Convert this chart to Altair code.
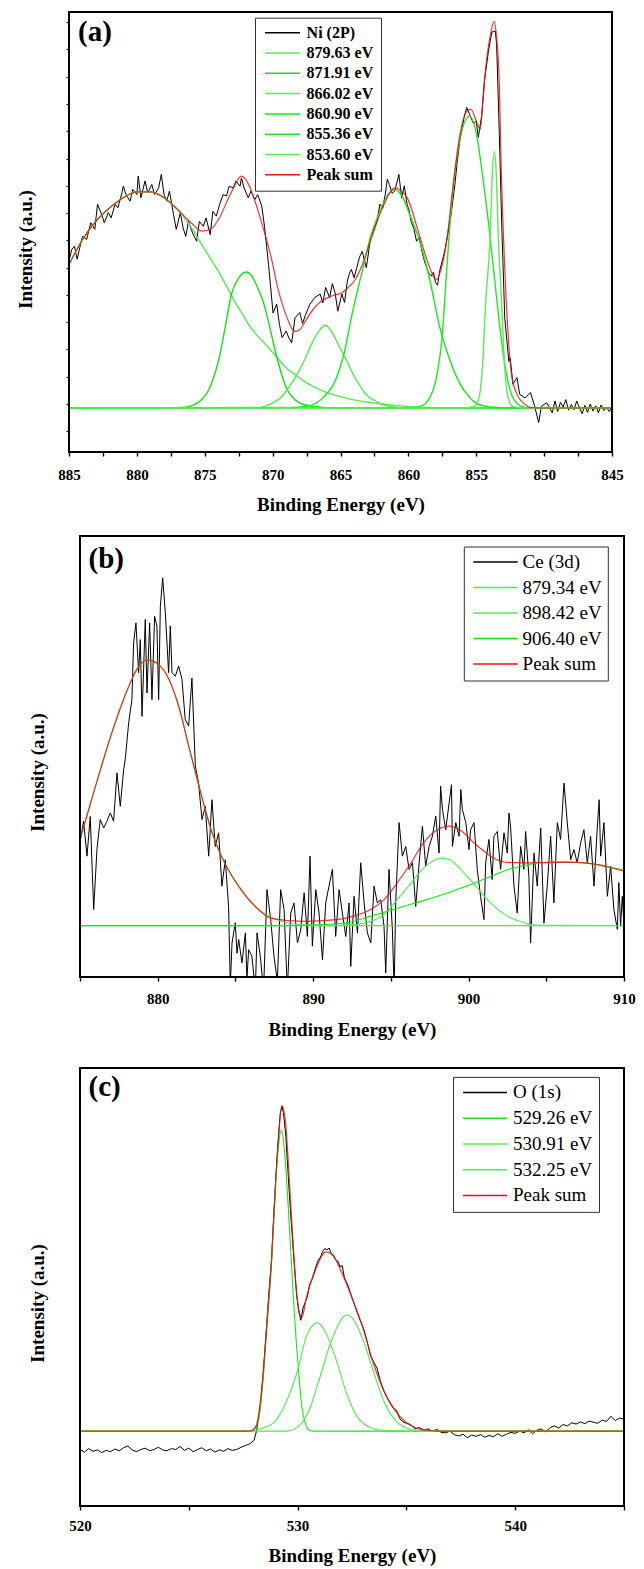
import altair as alt
import pandas as pd

FONT = "Liberation Serif"

# ======================= (a) Ni 2p =======================
a_names = ["Ni (2P)", "879.63 eV", "871.91 eV", "866.02 eV", "860.90 eV",
           "855.36 eV", "853.60 eV", "Peak sum"]
a_colors = ["#000000", "#4cef4c", "#14e014", "#4cef4c", "#10ee10",
            "#22e622", "#55ee55", "#ee1111"]

a_ni = [
    (885.0, 43.4), (884.8, 46.0), (884.6, 46.8), (884.4, 43.8), (884.1, 47.9),
    (884.0, 49.0), (883.7, 48.3), (883.4, 52.1), (883.1, 50.6), (882.9, 56.3),
    (882.6, 54.0), (882.4, 52.1), (882.1, 54.4), (881.9, 53.2), (881.6, 56.3),
    (881.4, 55.5), (881.1, 58.9), (881.0, 60.4), (880.8, 58.5), (880.5, 57.0),
    (880.3, 59.7), (880.0, 58.5), (879.9, 62.7), (879.7, 57.8), (879.4, 61.6),
    (879.2, 58.9), (878.9, 60.8), (878.7, 58.5), (878.4, 60.0), (878.2, 63.1),
    (878.0, 58.5), (877.8, 57.0), (877.6, 59.3), (877.3, 54.0), (877.1, 50.6),
    (876.8, 54.4), (876.6, 51.0), (876.4, 49.0), (876.2, 52.4), (875.9, 49.8),
    (875.6, 47.9), (875.4, 52.4), (875.1, 51.3), (874.9, 53.2), (874.6, 49.4),
    (874.4, 54.7), (874.15, 53.6), (873.9, 56.3), (873.65, 58.5), (873.4, 58.2),
    (873.2, 60.4), (872.9, 60.0), (872.7, 61.6), (872.4, 60.4), (872.3, 62.3),
    (872.1, 60.0), (871.8, 57.8), (871.6, 59.3), (871.3, 57.4), (871.1, 58.5),
    (870.8, 55.9), (870.6, 51.3), (870.3, 42.6), (869.97, 31.6), (869.7, 33.6),
    (869.5, 29.0), (869.3, 26.0), (869.0, 27.5), (868.8, 25.9), (868.6, 24.8),
    (868.35, 30.5), (868.0, 31.7), (867.8, 29.2), (867.6, 31.0), (867.25, 33.6),
    (866.9, 35.1), (866.5, 35.9), (866.3, 33.9), (866.1, 37.4), (865.8, 35.1),
    (865.6, 38.3), (865.4, 36.2), (865.2, 32.0), (864.9, 35.9), (864.7, 34.0),
    (864.5, 38.8), (864.35, 40.5), (864.2, 41.5), (864.0, 39.6), (863.8, 41.9),
    (863.6, 44.3), (863.4, 45.6), (863.1, 41.9), (862.95, 45.0), (862.8, 48.7),
    (862.5, 51.0), (862.3, 52.5), (862.1, 56.3), (861.9, 55.4), (861.7, 58.6),
    (861.55, 62.0), (861.4, 60.8), (861.2, 58.8), (861.0, 59.3), (860.7, 63.1),
    (860.5, 57.8), (860.3, 60.5), (860.1, 56.3), (859.95, 55.0), (859.8, 52.4),
    (859.6, 50.8), (859.4, 47.9), (859.2, 48.8), (859.0, 45.6), (858.8, 43.2),
    (858.65, 41.9), (858.5, 40.6), (858.3, 40.0), (858.15, 40.9), (858.0, 38.5),
    (857.85, 37.9), (857.7, 41.1), (857.5, 43.5), (857.3, 46.0), (856.9, 53.0),
    (856.6, 60.0), (856.4, 66.0), (856.2, 71.0), (855.9, 76.0), (855.7, 78.3),
    (855.5, 76.8), (855.2, 74.6), (855.0, 75.2), (854.85, 71.5), (854.6, 76.4),
    (854.4, 84.3), (854.1, 91.1), (853.86, 95.4), (853.6, 95.7), (853.5, 92.7),
    (853.3, 72.2), (853.1, 49.4), (852.9, 30.5), (852.6, 20.6), (852.5, 21.4),
    (852.3, 15.4), (852.0, 16.9), (851.8, 13.1), (851.4, 12.3), (851.0, 13.5),
    (850.7, 10.4), (850.4, 6.7), (850.2, 10.4), (849.8, 11.2), (849.4, 8.9),
    (849.2, 11.6), (849.0, 9.2), (848.8, 11.3), (848.6, 10.2), (848.4, 11.9),
    (848.2, 9.5), (848.0, 10.8), (847.8, 9.6), (847.6, 11.6), (847.4, 10.1),
    (847.2, 8.7), (847.0, 10.6), (846.8, 9.0), (846.6, 10.9), (846.4, 9.3),
    (846.2, 10.5), (846.0, 8.9), (845.8, 10.7), (845.6, 9.4), (845.4, 10.1),
    (845.2, 9.2), (845.0, 10.3),
]
a_fit_87963 = [
    (885, 42.6), (884, 48.3), (883, 52.5), (882, 55.5), (881, 57.8), (880, 59.1),
    (879, 59.1), (878, 57.8), (877, 55.1), (876.2, 52.0), (875.4, 48.0), (874.7, 44.5),
    (874, 41.1), (873.4, 37.7), (872.8, 34.3), (872.2, 31.2), (871.6, 28.2), (871, 26.0),
    (870.3, 23.7), (869.6, 21.2), (869, 19.1), (868.3, 17.5), (867.7, 16.1), (866.8, 14.6),
    (866, 13.5), (865, 12.6), (864.1, 11.9), (863, 11.3), (861.6, 10.8), (859.9, 10.3),
    (858, 10.05), (856, 10.0), (845, 10.0),
]
a_fit_87191 = [
    (885, 10.0), (877, 10.05), (876.2, 10.3), (875.74, 10.8), (875.2, 12.0), (874.76, 13.8),
    (874.4, 16.5), (874.0, 20.6), (873.5, 28.2), (873.04, 35.8), (872.5, 39.5), (871.94, 40.9),
    (871.5, 39.8), (871.1, 37.3), (870.7, 34.2), (870.3, 29.5), (870.0, 25.5), (869.6, 20.5),
    (869.0, 14.6), (868.4, 12.0), (867.7, 10.8), (866.5, 10.2), (865, 10.0), (845, 10.0),
]
a_fit_86602 = [
    (885, 10.0), (871, 10.1), (870.2, 10.8), (869.2, 13.0), (868.7, 15.2), (868.2, 17.6),
    (867.7, 20.6), (867.25, 23.7), (866.7, 27.0), (866.1, 28.8), (865.6, 27.0), (865.04, 23.7),
    (864.5, 20.5), (864.06, 17.6), (863.6, 15.2), (863.1, 13.0), (862.5, 11.7), (861.9, 10.8),
    (861, 10.2), (860, 10.0), (845, 10.0),
]
a_fit_86090 = [
    (885, 10.0), (868.5, 10.1), (867.5, 10.4), (866.3, 12.3), (865.3, 16.8), (864.7, 22.9),
    (864.1, 32.0), (863.4, 41.1), (862.8, 48.7), (862.1, 54.7), (861.5, 58.5), (861.0, 59.7),
    (860.5, 58.3), (859.9, 54.0), (859.1, 47.2), (858.4, 38.8), (857.7, 28.5), (856.9, 20.5),
    (856.2, 15.5), (855.6, 12.8), (855.2, 11.5), (854.5, 10.5), (853.5, 10.1), (852, 10.0),
    (845, 10.0),
]
a_fit_85536 = [
    (885, 10.0), (860, 10.05), (859, 10.5), (858.5, 12.0), (858, 16.0), (857.5, 26.7),
    (857.2, 40.3), (856.8, 57.0), (856.4, 67.6), (856.0, 73.7), (855.5, 76.4), (855.0, 72.5),
    (854.5, 62.0), (854.0, 49.4), (853.5, 35.0), (853.0, 22.0), (852.5, 14.0), (852.0, 11.0),
    (851.5, 10.2), (851, 10.0), (845, 10.0),
]
a_fit_85360 = [
    (885, 10.0), (856, 10.0), (855.2, 10.3), (854.8, 12.3), (854.55, 19.1), (854.3, 34.3),
    (853.97, 49.4), (853.82, 62.9), (853.67, 68.3), (853.52, 62.9), (853.38, 49.4),
    (853.14, 34.3), (852.9, 19.1), (852.65, 12.3), (852.3, 10.3), (851.5, 10.0), (845, 10.0),
]
a_sum = [
    (885, 42.6), (884, 48.3), (883, 52.5), (882, 55.5), (881, 57.8), (880, 59.1),
    (879, 59.1), (878, 57.8), (877, 55.1), (876, 52.1), (875.2, 50.2), (874.5, 50.8),
    (874, 52.8), (873, 59.3), (872.3, 62.7), (871.8, 61.0), (871.3, 57.0), (870.7, 51.0),
    (870.1, 44.1), (869.6, 37.0), (869.2, 32.8), (868.8, 29.5), (868.4, 27.4), (868, 27.8),
    (867.6, 29.7), (867, 32.5), (866.4, 34.3), (865.6, 35.5), (864.9, 36.2), (864.4, 37.5),
    (864, 38.8), (863.4, 42.5), (862.8, 47.9), (861.9, 55.5), (861, 60.0), (860.1, 57.8),
    (859.2, 49.4), (858.5, 42.5), (858.1, 39.6), (857.9, 39.2), (857.7, 40.5), (857.2, 47.5),
    (856.7, 60.8), (856.2, 72.2), (855.7, 77.4), (855.4, 77.9), (854.9, 74.4), (854.7, 73.3),
    (854.55, 78.2), (854.3, 87.3), (853.95, 94.9), (853.7, 97.8), (853.5, 94.2), (853.3, 83.5),
    (853.16, 64.6), (852.9, 41.8), (852.65, 26.7), (852.4, 17.6), (852.0, 13.1), (851.4, 10.8),
    (851.0, 10.1), (850, 10.0), (845, 10.0),
]
a_xticks = [845, 847.5, 850, 852.5, 855, 857.5, 860, 862.5, 865, 867.5, 870,
            872.5, 875, 877.5, 880, 882.5, 885]
a_yticks = [4.7, 10.9, 17.1, 23.3, 29.5, 35.7, 41.9, 48.1, 54.3, 60.5, 66.7,
            72.9, 79.1, 85.3, 91.5, 97.7]

# ======================= (b) Ce 3d =======================
b_names = ["Ce (3d)", "879.34 eV", "898.42 eV", "906.40 eV", "Peak sum"]
b_colors = ["#000000", "#44ee44", "#4cef4c", "#14e614", "#ee1111"]

b_ce = [
    (875.0, 30.5), (875.23, 35.3), (875.45, 27.4), (875.66, 36.4), (875.88, 15.3),
    (876.09, 28.9), (876.3, 35.7), (876.52, 33.8), (876.73, 35.3), (876.95, 37.2),
    (877.16, 35.3), (877.38, 46.3), (877.59, 38.7), (877.81, 47.0), (877.91, 49.3),
    (878.13, 57.6), (878.34, 62.9), (878.45, 75.8), (878.6, 80.3), (878.77, 69.0),
    (878.88, 76.5), (878.99, 59.1), (879.2, 81.1), (879.31, 64.4), (879.48, 80.3),
    (879.63, 62.9), (879.8, 81.8), (879.95, 79.6), (880.06, 62.9), (880.17, 84.1),
    (880.32, 90.5), (880.49, 82.6), (880.7, 69.0), (880.81, 79.6), (880.92, 69.0),
    (881.13, 68.2), (881.35, 70.5), (881.56, 67.5), (881.77, 58.4), (881.99, 56.9),
    (882.2, 67.8), (882.42, 47.8), (882.63, 44.0), (882.85, 35.7), (883.06, 38.7),
    (883.28, 27.4), (883.49, 40.2), (883.7, 29.6), (883.92, 32.7), (884.13, 20.6),
    (884.35, 26.6), (884.56, 16.0), (884.67, -2.0), (884.78, 7.7), (884.99, 12.3),
    (885.1, 5.4), (885.21, 8.5), (885.42, 3.2), (885.64, 10.0), (885.74, -0.6),
    (885.85, 6.2), (886.06, 4.7), (886.28, -3.0), (886.39, 10.0), (886.6, 4.7),
    (886.81, -3.0), (887.03, 19.8), (887.27, 13.0), (887.48, 4.7), (887.7, -1.0),
    (887.91, 19.8), (888.13, 15.3), (888.34, -3.0), (888.56, 14.5), (888.77, 16.8),
    (888.99, 7.7), (889.2, 10.7), (889.42, 19.1), (889.63, 9.2), (889.8, 27.4),
    (889.95, 7.0), (890.17, 19.8), (890.38, 14.5), (890.6, 3.9), (890.81, 16.8),
    (891.02, 20.6), (891.24, 24.4), (891.45, 9.2), (891.67, 19.8), (891.88, 14.5),
    (892.1, 9.2), (892.31, 16.8), (892.42, 2.4), (892.63, 18.3), (892.85, 10.0),
    (893.06, 25.9), (893.28, 16.8), (893.49, 10.0), (893.71, 7.7), (893.92, 20.6),
    (894.13, 16.8), (894.35, 17.5), (894.56, 11.5), (894.67, 0.9), (894.88, 24.4),
    (895.1, 10.7), (895.21, -3.0), (895.31, 16.8), (895.53, 35.0), (895.74, 27.4),
    (895.96, 29.6), (896.17, 24.4), (896.39, 25.9), (896.6, 16.0), (896.82, 25.9),
    (897.03, 34.2), (897.24, 25.1), (897.46, 29.6), (897.67, 31.9), (897.89, 36.5),
    (898.1, 28.1), (898.2, 43.3), (898.32, 38.0), (898.53, 33.4), (898.75, 39.5),
    (898.9, 43.6), (898.96, 29.6), (899.18, 35.0), (899.39, 31.9), (899.5, 42.5),
    (899.6, 38.0), (899.82, 35.0), (900.03, 28.9), (900.13, 33.4), (900.35, 35.0),
    (900.56, 24.4), (900.77, 18.3), (900.99, 13.0), (901.1, 25.9), (901.31, 31.2),
    (901.52, 22.1), (901.63, 31.9), (901.85, 33.0), (902.06, 24.4), (902.28, 32.7),
    (902.49, 28.1), (902.6, 37.2), (902.7, 34.2), (902.92, 20.6), (903.13, 14.5),
    (903.35, 29.6), (903.56, 24.4), (903.67, 33.0), (903.88, 22.8), (903.99, 7.7),
    (904.21, 28.1), (904.42, 20.6), (904.64, 33.8), (904.85, 12.2), (905.06, 20.6),
    (905.28, 31.9), (905.49, 16.8), (905.71, 35.0), (905.92, 31.2), (906.14, 44.0),
    (906.35, 35.0), (906.57, 26.6), (906.78, 28.9), (906.99, 25.9), (907.21, 30.4),
    (907.42, 33.4), (907.64, 25.9), (907.85, 31.9), (908.07, 20.6), (908.28, 33.8),
    (908.4, 40.2), (908.5, 27.4), (908.71, 35.0), (908.93, 18.3), (909.14, 25.1),
    (909.35, 15.3), (909.57, 10.8), (909.67, 21.4), (909.78, 11.5), (909.89, 18.3),
    (910.0, 11.6),
]
b_fit_87934 = [
    (875, 31.2), (876, 43.3), (877.05, 55.4), (878.1, 65.6), (878.7, 70.0), (879.3, 71.9),
    (880.0, 71.0), (880.5, 69.0), (881.35, 61.4), (882, 52.3), (882.6, 44.0), (883.5, 32.7),
    (884.1, 27.4), (885.2, 20.6), (886.5, 15.2), (887.5, 13.2), (888.5, 12.2), (889.5, 11.8),
    (891, 11.65), (910, 11.65),
]
b_fit_89842 = [
    (875, 11.65), (891, 11.65), (892.6, 11.9), (893.7, 12.6), (894.55, 14.1), (895.4, 17.5),
    (896.3, 21.3), (897.1, 24.7), (897.8, 26.5), (898.3, 27.0), (898.8, 26.6), (899.3, 25.1),
    (900.3, 21.3), (901.4, 16.8), (902.5, 13.8), (903.6, 12.3), (904.6, 11.7), (910, 11.65),
]
b_fit_90640 = [
    (875, 11.65), (888, 11.65), (889.5, 11.75), (891, 11.95), (892.6, 12.6), (893.7, 13.8),
    (894.8, 14.9), (895.8, 16.0), (897, 17.2), (898, 18.3), (899, 19.5), (900.1, 20.9),
    (901.3, 22.6), (902.5, 24.3), (903.6, 25.3), (904.6, 25.9), (906.1, 26.1), (907, 26.0),
    (907.85, 25.7), (909, 25.0), (910, 24.2),
]
b_sum = [
    (875, 31.2), (876, 43.3), (877.05, 55.4), (878.1, 65.6), (878.7, 70.0), (879.3, 71.9),
    (880.0, 71.0), (880.5, 69.0), (881.35, 61.4), (882, 52.3), (882.6, 44.0), (883.5, 32.7),
    (884.1, 27.4), (885.2, 20.6), (886.5, 15.3), (887.3, 13.3), (889.4, 12.6), (891.5, 13.0),
    (892.6, 13.8), (893.7, 15.3), (894.55, 17.5), (895.4, 21.3), (896.3, 25.9), (897.1, 30.4),
    (898.0, 33.4), (898.7, 34.2), (899.5, 33.2), (900.35, 30.4), (901.0, 28.5), (901.6, 27.0),
    (902.5, 26.0), (903.6, 25.9), (905.7, 26.0), (906.8, 26.0), (907.9, 25.7), (908.9, 25.0),
    (910, 24.0),
]
b_xticks = [875, 880, 885, 890, 895, 900, 905, 910]

# ======================= (c) O 1s =======================
c_names = ["O (1s)", "529.26 eV", "530.91 eV", "532.25 eV", "Peak sum"]
c_colors = ["#000000", "#14e614", "#4cef4c", "#44ee44", "#ee1111"]

c_o = [
    (520.0, 12.9), (520.2, 12.3), (520.4, 13.1), (520.6, 12.5), (520.8, 12.8),
    (521.0, 12.2), (521.2, 12.7), (521.4, 12.4), (521.6, 13.0), (521.8, 12.6),
    (522.0, 13.3), (522.2, 13.7), (522.4, 12.8), (522.6, 12.4), (522.8, 12.9),
    (523.0, 13.2), (523.2, 12.6), (523.4, 12.9), (523.6, 13.4), (523.8, 12.8),
    (524.0, 12.6), (524.2, 13.1), (524.4, 12.9), (524.6, 13.6), (524.8, 12.7),
    (525.0, 13.2), (525.2, 12.4), (525.4, 12.9), (525.6, 13.3), (525.8, 12.6),
    (526.0, 13.0), (526.2, 12.3), (526.4, 12.8), (526.6, 12.5), (526.8, 13.1),
    (527.0, 12.7), (527.2, 12.9), (527.4, 13.4), (527.6, 13.8), (527.8, 14.2),
    (528.0, 15.0), (528.1, 16.9), (528.2, 19.8), (528.3, 23.5), (528.4, 29.0),
    (528.5, 36.0), (528.6, 43.0), (528.7, 50.0), (528.8, 56.0), (528.9, 66.0),
    (529.0, 75.0), (529.1, 83.0), (529.2, 89.5), (529.28, 91.3), (529.35, 89.8),
    (529.45, 85.0), (529.55, 77.0), (529.65, 69.0), (529.75, 62.0), (529.85, 55.0),
    (529.95, 48.5), (530.05, 44.5), (530.15, 42.4), (530.25, 45.2), (530.35, 46.5),
    (530.45, 47.8), (530.55, 50.5), (530.65, 51.6), (530.75, 53.2), (530.85, 54.8),
    (530.95, 56.1), (531.05, 56.8), (531.15, 58.1), (531.25, 58.8), (531.35, 58.5),
    (531.45, 58.9), (531.55, 57.6), (531.65, 57.3), (531.75, 56.2), (531.85, 55.9),
    (531.95, 54.6), (532.05, 54.9), (532.15, 52.1), (532.3, 50.5), (532.45, 48.3),
    (532.6, 46.2), (532.75, 44.0), (532.9, 42.1), (533.05, 40.2), (533.2, 37.5),
    (533.35, 34.3), (533.5, 32.8), (533.65, 31.5), (533.8, 28.6), (533.95, 26.4),
    (534.1, 24.8), (534.25, 23.5), (534.4, 22.3), (534.55, 21.8), (534.7, 19.9),
    (534.85, 19.2), (535.0, 18.9), (535.2, 18.6), (535.4, 17.6), (535.6, 17.9),
    (535.8, 17.3), (536.0, 17.6), (536.2, 17.0), (536.4, 17.5), (536.6, 16.8),
    (536.8, 16.7), (537.0, 17.1), (537.2, 16.3), (537.4, 16.0), (537.6, 16.4),
    (537.8, 15.6), (538.0, 16.2), (538.2, 15.9), (538.4, 16.3), (538.6, 15.7),
    (538.8, 16.1), (539.0, 15.8), (539.2, 16.5), (539.4, 15.9), (539.6, 16.4),
    (539.8, 16.8), (540.0, 16.6), (540.2, 17.1), (540.4, 16.7), (540.6, 17.4),
    (540.8, 16.5), (541.0, 17.3), (541.2, 17.6), (541.4, 16.9), (541.6, 17.9),
    (541.8, 18.3), (542.0, 17.8), (542.2, 18.6), (542.4, 18.3), (542.6, 19.0),
    (542.8, 18.7), (543.0, 19.2), (543.2, 18.8), (543.4, 19.4), (543.6, 19.1),
    (543.8, 18.9), (544.0, 19.6), (544.2, 19.3), (544.4, 20.5), (544.6, 19.5),
    (544.8, 20.1), (545.0, 19.8),
]
c_fit_52926 = [
    (520, 17.1), (527.8, 17.1), (528.0, 17.5), (528.2, 19.5), (528.4, 28.0), (528.6, 42.0),
    (528.8, 55.5), (529.0, 74.0), (529.1, 81.0), (529.26, 85.9), (529.4, 81.0), (529.55, 70.0),
    (529.7, 57.0), (529.85, 44.0), (530.04, 31.0), (530.2, 22.5), (530.35, 19.0), (530.5, 17.4),
    (530.7, 17.1), (545, 17.1),
]
c_fit_53091 = [
    (520, 17.1), (527.5, 17.1), (528.0, 17.3), (528.5, 18.0), (528.8, 18.6), (529.0, 19.5),
    (529.56, 24.7), (530.0, 31.0), (530.44, 39.2), (530.91, 41.8), (531.3, 39.5), (531.8, 33.0),
    (532.3, 25.0), (532.8, 20.0), (533.3, 18.0), (534.0, 17.2), (535.0, 17.1), (545, 17.1),
]
c_fit_53225 = [
    (520, 17.1), (529.5, 17.1), (530.0, 18.0), (530.5, 21.5), (531.0, 29.0), (531.5, 37.0),
    (532.0, 42.5), (532.25, 43.6), (532.5, 43.0), (533.0, 38.0), (533.5, 30.5), (534.0, 23.5),
    (534.5, 19.5), (535.0, 17.8), (535.5, 17.2), (536.0, 17.1), (545, 17.1),
]
c_sum = [
    (520, 17.1), (527.8, 17.1), (528.05, 17.9), (528.2, 20.5), (528.4, 29.3), (528.6, 42.0),
    (528.8, 55.9), (529.0, 75.0), (529.1, 82.5), (529.28, 91.4), (529.47, 86.3), (529.6, 76.0),
    (529.75, 63.5), (529.9, 52.0), (530.04, 45.2), (530.2, 43.0), (530.4, 47.5), (530.8, 53.6),
    (531.3, 58.0), (531.65, 57.0), (532.0, 53.6), (532.5, 47.5), (533.0, 40.7), (533.45, 33.1),
    (533.9, 27.0), (534.4, 22.4), (534.9, 19.4), (535.4, 17.9), (536.0, 17.3), (536.5, 17.1),
    (545, 17.1),
]
c_xticks = [520, 525, 530, 535, 540, 545]


def curve_df(points, name):
    return pd.DataFrame({"E": [p[0] for p in points],
                         "I": [p[1] for p in points],
                         "series": name})


def make_panel(raw, comps, total, names, colors, o):
    df_raw = curve_df(raw, names[0])
    df_comp = pd.concat([curve_df(c, n) for c, n in zip(comps, names[1:-1])],
                        ignore_index=True)
    df_sum = curve_df(total, names[-1])

    sc = dict(domain=o["xdom"], nice=False, zero=False)
    if o.get("xrev"):
        sc["reverse"] = True
    if o.get("xrange"):
        sc["range"] = o["xrange"]

    xaxis = alt.Axis(
        title="Binding Energy (eV)", values=o["xticks"],
        labelExpr="datum.value % " + str(o["lab_mod"]) + " === 0 ? datum.label : ''",
        grid=False, domain=False, ticks=True, tickSize=4, tickWidth=1.4,
        tickColor="black", labelFont=FONT, labelFontSize=15, labelFontWeight="bold",
        labelColor="black", labelPadding=o["lab_pad"], labelFlush=False,
        labelOverlap=False, labelAngle=0, titleFont=FONT, titleFontSize=19,
        titleFontWeight="bold", titleColor="black", titleX=o["xt_x"],
        titleY=o["xt_y"], titleAlign="center", titleBaseline="alphabetic")

    ykw = dict(title="Intensity (a.u.)", labels=False, domain=False, grid=False,
               titleX=o["yt_x"], titleY=o["yt_y"], titleAngle=270,
               titleAlign="center", titleBaseline="middle", titleFont=FONT,
               titleFontSize=19, titleFontWeight="bold", titleColor="black",
               titlePadding=0)
    if o.get("yticks"):
        ykw.update(ticks=True, values=o["yticks"], tickSize=3, tickWidth=1.2,
                   tickColor="black")
    else:
        ykw.update(ticks=False)
    yaxis = alt.Axis(**ykw)

    x = alt.X("E:Q", scale=alt.Scale(**sc), axis=xaxis)
    y = alt.Y("I:Q", scale=alt.Scale(domain=[0, 100], nice=False, zero=False),
              axis=yaxis)
    color = alt.Color("series:N", scale=alt.Scale(domain=names, range=colors),
                      legend=alt.Legend(**o["legend"]))

    l_raw = alt.Chart(df_raw).mark_line(strokeWidth=1.0, clip=True).encode(
        x=x, y=y, color=color)
    l_comp = alt.Chart(df_comp).mark_line(strokeWidth=o["comp_w"],
                                          interpolate="monotone",
                                          clip=True).encode(x=x, y=y, color=color)
    l_sum = alt.Chart(df_sum).mark_line(strokeWidth=1.2, strokeOpacity=0.85,
                                        interpolate="monotone", clip=True).encode(
        x=x, y=y, color=color)

    one = pd.DataFrame({"k": [0]})
    frame = alt.Chart(one).mark_rect(fillOpacity=0, stroke="black",
                                     strokeWidth=2).encode(
        x=alt.value(o["fx0"]), x2=alt.value(o["w"]),
        y=alt.value(0), y2=alt.value(o["h"]))
    tag = alt.Chart(one).mark_text(text=o["tag"], font=FONT, fontSize=29,
                                   fontWeight="bold", align="left",
                                   baseline="alphabetic", color="black").encode(
        x=alt.value(o["tag_x"]), y=alt.value(o["tag_y"]))

    return alt.layer(l_raw, l_comp, l_sum, frame, tag).properties(
        width=o["w"], height=o["h"])


def legend_opts(lx, ly, pad, rowpad, path, lab_off, fsize, weight):
    return dict(orient="none", legendX=lx, legendY=ly, direction="vertical",
                title=None, padding=pad, rowPadding=rowpad, symbolType=path,
                symbolSize=64, symbolStrokeWidth=1.5, symbolOffset=0,
                labelOffset=lab_off, labelFont=FONT, labelFontSize=fsize,
                labelFontWeight=weight, labelColor="black",
                strokeColor="#333333", fillColor="white")


pa = make_panel(
    a_ni,
    [a_fit_87963, a_fit_87191, a_fit_86602, a_fit_86090, a_fit_85536, a_fit_85360],
    a_sum, a_names, a_colors,
    dict(xdom=[845, 885], xrev=True, xrange=None, w=543, h=440,
         xticks=a_xticks, lab_mod=5, lab_pad=11.3, xt_x=271.5, xt_y=58.5,
         yt_x=-43.3, yt_y=237, yticks=a_yticks, fx0=0, comp_w=1.4,
         tag="(a)", tag_x=9, tag_y=28.5,
         legend=legend_opts(186, 5.7, 7, 4.3, "M-1.25,0H7.5", 28.6, 16, "bold")))

pb = make_panel(
    b_ce, [b_fit_87934, b_fit_89842, b_fit_90640], b_sum, b_names, b_colors,
    dict(xdom=[875, 910], xrange=[11, 555], w=555, h=441,
         xticks=b_xticks, lab_mod=10, lab_pad=10.75, xt_x=283, xt_y=58.5,
         yt_x=-31.6, yt_y=236, fx0=11, comp_w=1.1,
         tag="(b)", tag_x=19.5, tag_y=32,
         legend=legend_opts(394.8, 10.5, 6, 5.5, "M-1.5,0H9.6", 33.8, 19, "normal")))

pc = make_panel(
    c_o, [c_fit_52926, c_fit_53091, c_fit_53225], c_sum, c_names, c_colors,
    dict(xdom=[520, 545], xrange=[11, 555], w=555, h=438,
         xticks=c_xticks, lab_mod=10, lab_pad=8.3, xt_x=283, xt_y=55.8,
         yt_x=-31.6, yt_y=235, fx0=11, comp_w=1.1,
         tag="(c)", tag_x=19.5, tag_y=28,
         legend=legend_opts(384, 8.9, 6, 5.75, "M-1.375,0H9.625", 35, 19, "normal")))

inner = alt.vconcat(pb, pc, spacing=26).resolve_scale(
    color="independent", x="independent", y="independent")
chart = alt.vconcat(pa, inner, spacing=19).resolve_scale(
    color="independent", x="independent", y="independent")
chart = chart.properties(
    padding={"left": 16, "top": 10, "right": 4, "bottom": 0}
).configure_view(stroke="transparent")

chart.save("out.html", embed_options={"renderer": "svg", "actions": False})
